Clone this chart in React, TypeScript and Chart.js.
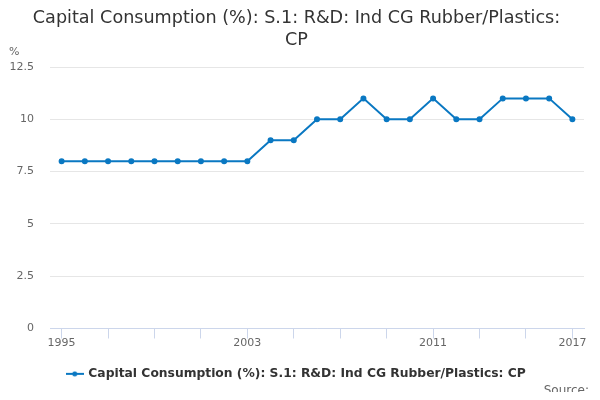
import { useEffect, useRef } from "react";
import { Chart, registerables, type ChartConfiguration, type Plugin } from "chart.js";

Chart.register(...registerables);

const years = [
  "1995", "1996", "1997", "1998", "1999", "2000", "2001", "2002", "2003", "2004", "2005", "2006",
  "2007", "2008", "2009", "2010", "2011", "2012", "2013", "2014", "2015", "2016", "2017"
];
const capitalConsumption = [8, 8, 8, 8, 8, 8, 8, 8, 8, 9, 9, 10, 10, 11, 10, 10, 11, 10, 10, 11, 11, 11, 10];
const shownYears = ["1995", "2003", "2011", "2017"];
const seriesName = "Capital Consumption (%): S.1: R&D: Ind CG Rubber/Plastics: CP";
const titleLines = ["Capital Consumption (%): S.1: R&D: Ind CG Rubber/Plastics:", "CP"];

const lineColor = "#0a78c2";
const fontFamily = "'DejaVu Sans', sans-serif";

function legendMarker() {
  const c = document.createElement("canvas");
  c.width = 18;
  c.height = 6;
  const ctx = c.getContext("2d");
  if (ctx) {
    ctx.strokeStyle = lineColor;
    ctx.lineWidth = 2;
    ctx.beginPath();
    ctx.moveTo(0, 3);
    ctx.lineTo(18, 3);
    ctx.stroke();
    ctx.fillStyle = lineColor;
    ctx.beginPath();
    ctx.arc(9, 3, 2.5, 0, Math.PI * 2);
    ctx.fill();
  }
  return c;
}

// draws the "%" unit label and the source note
const extraText: Plugin<"line"> = {
  id: "extraText",
  afterDraw(chart) {
    const ctx = chart.ctx;
    ctx.save();
    ctx.fillStyle = "#666666";
    ctx.textBaseline = "middle";
    ctx.font = `11px ${fontFamily}`;
    ctx.textAlign = "left";
    ctx.fillText("%", 9, 52);
    ctx.font = `12px ${fontFamily}`;
    ctx.textAlign = "right";
    ctx.fillText("Source:", 589, 391);
    ctx.restore();
  }
};

export default function App() {
  const canvasRef = useRef<HTMLCanvasElement | null>(null);

  useEffect(() => {
    const canvas = canvasRef.current;
    if (!canvas) {
      return;
    }

    const config: ChartConfiguration<"line"> = {
      type: "line",
      data: {
        labels: years,
        datasets: [
          {
            label: seriesName,
            data: capitalConsumption,
            borderColor: lineColor,
            backgroundColor: lineColor,
            borderWidth: 2,
            pointRadius: 2,
            pointHoverRadius: 3,
            tension: 0
          }
        ]
      },
      options: {
        responsive: false,
        animation: false,
        layout: {
          padding: { left: 9, right: 16, top: 0, bottom: 10 }
        },
        plugins: {
          title: {
            display: true,
            text: titleLines,
            color: "#333333",
            font: { family: fontFamily, size: 17.6, weight: "normal", lineHeight: 1.25 },
            padding: { top: 7, bottom: 16 }
          },
          legend: {
            position: "bottom",
            labels: {
              color: "#333333",
              font: { family: fontFamily, size: 12.3, weight: "bold" },
              usePointStyle: true,
              pointStyle: legendMarker(),
              pointStyleWidth: 15,
              padding: 20
            }
          },
          tooltip: { enabled: false }
        },
        scales: {
          x: {
            offset: true,
            grid: {
              display: true,
              drawOnChartArea: false,
              drawTicks: true,
              tickLength: 10,
              color: "#ccd6eb"
            },
            border: { display: true, color: "#ccd6eb" },
            ticks: {
              autoSkip: false,
              maxRotation: 0,
              color: "#666666",
              font: { family: fontFamily, size: 11 },
              padding: -2,
              callback: (_value, index) => {
                if (index % 2 !== 0) {
                  return null;
                }
                return shownYears.includes(years[index]) ? years[index] : "";
              }
            }
          },
          y: {
            min: 0,
            max: 12.5,
            afterFit: (scale) => {
              scale.width = 41;
            },
            grid: { color: "#e6e6e6", drawTicks: false },
            border: { display: false },
            ticks: {
              stepSize: 2.5,
              color: "#666666",
              font: { family: fontFamily, size: 11 },
              padding: 16
            }
          }
        }
      },
      plugins: [extraText]
    };

    const chart = new Chart(canvas, config);
    return () => {
      chart.destroy();
    };
  }, []);

  return (
    <div style={{ width: 600, height: 400, margin: -8, background: "#ffffff" }}>
      <canvas ref={canvasRef} width={600} height={400} />
    </div>
  );
}
